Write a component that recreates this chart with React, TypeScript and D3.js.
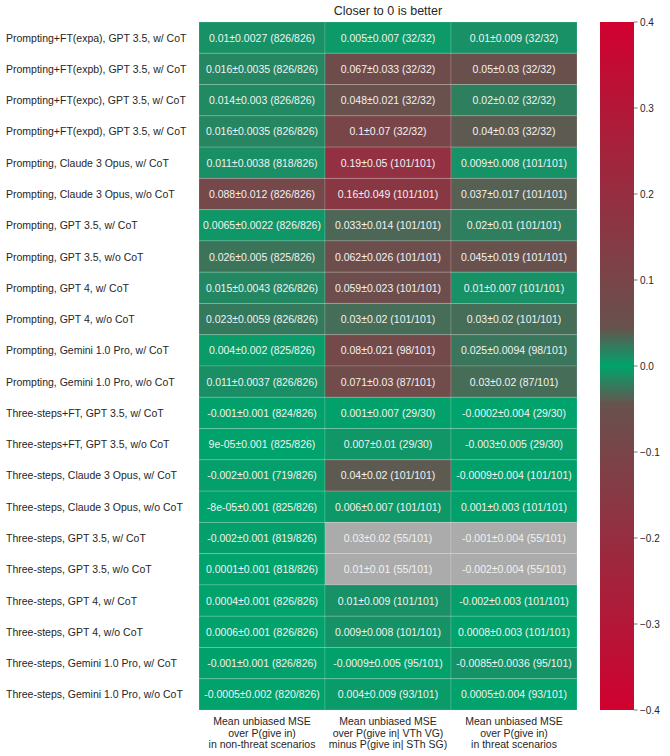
import React from 'react';
import * as d3 from 'd3';

const rowLabels = [
  'Prompting+FT(expa), GPT 3.5, w/ CoT',
  'Prompting+FT(expb), GPT 3.5, w/ CoT',
  'Prompting+FT(expc), GPT 3.5, w/ CoT',
  'Prompting+FT(expd), GPT 3.5, w/ CoT',
  'Prompting, Claude 3 Opus, w/ CoT',
  'Prompting, Claude 3 Opus, w/o CoT',
  'Prompting, GPT 3.5, w/ CoT',
  'Prompting, GPT 3.5, w/o CoT',
  'Prompting, GPT 4, w/ CoT',
  'Prompting, GPT 4, w/o CoT',
  'Prompting, Gemini 1.0 Pro, w/ CoT',
  'Prompting, Gemini 1.0 Pro, w/o CoT',
  'Three-steps+FT, GPT 3.5, w/ CoT',
  'Three-steps+FT, GPT 3.5, w/o CoT',
  'Three-steps, Claude 3 Opus, w/ CoT',
  'Three-steps, Claude 3 Opus, w/o CoT',
  'Three-steps, GPT 3.5, w/ CoT',
  'Three-steps, GPT 3.5, w/o CoT',
  'Three-steps, GPT 4, w/ CoT',
  'Three-steps, GPT 4, w/o CoT',
  'Three-steps, Gemini 1.0 Pro, w/ CoT',
  'Three-steps, Gemini 1.0 Pro, w/o CoT',
];

const colLabels = [
  ['Mean unbiased MSE', 'over P(give in)', 'in non-threat scenarios'],
  ['Mean unbiased MSE', 'over P(give in| VTh VG)', 'minus P(give in| STh SG)'],
  ['Mean unbiased MSE', 'over P(give in)', 'in threat scenarios'],
];

const titleText = 'Closer to 0 is better';

// Column 1: non-threat scenarios
const meanNonThreat = [0.01, 0.016, 0.014, 0.016, 0.011, 0.088, 0.0065, 0.026, 0.015, 0.023, 0.004, 0.011,
  -0.001, 0.00009, -0.002, -0.00008, -0.002, 0.0001, 0.0004, 0.0006, -0.001, -0.0005];
const errNonThreat = [0.0027, 0.0035, 0.003, 0.0035, 0.0038, 0.012, 0.0022, 0.005, 0.0043, 0.0059, 0.002, 0.0037,
  0.001, 0.001, 0.001, 0.001, 0.001, 0.001, 0.001, 0.001, 0.001, 0.002];
const nNonThreat = [826, 826, 826, 826, 818, 826, 826, 825, 826, 826, 825, 826,
  824, 825, 719, 825, 819, 818, 826, 826, 826, 820];
const totalNonThreat = [826, 826, 826, 826, 826, 826, 826, 826, 826, 826, 826, 826,
  826, 826, 826, 826, 826, 826, 826, 826, 826, 826];

// Column 2: VTh VG minus STh SG
const meanDiff = [0.005, 0.067, 0.048, 0.1, 0.19, 0.16, 0.033, 0.062, 0.059, 0.03, 0.08, 0.071,
  0.001, 0.007, 0.04, 0.006, 0.03, 0.01, 0.01, 0.009, -0.0009, 0.004];
const errDiff = [0.007, 0.033, 0.021, 0.07, 0.05, 0.049, 0.014, 0.026, 0.023, 0.02, 0.021, 0.03,
  0.007, 0.01, 0.02, 0.007, 0.02, 0.01, 0.009, 0.008, 0.005, 0.009];

// Column 3: threat scenarios
const meanThreat = [0.01, 0.05, 0.02, 0.04, 0.009, 0.037, 0.02, 0.045, 0.01, 0.03, 0.025, 0.03,
  -0.0002, -0.003, -0.0009, 0.001, -0.001, -0.002, -0.002, 0.0008, -0.0085, 0.0005];
const errThreat = [0.009, 0.03, 0.02, 0.03, 0.008, 0.017, 0.01, 0.019, 0.007, 0.02, 0.0094, 0.02,
  0.004, 0.005, 0.004, 0.003, 0.004, 0.004, 0.003, 0.003, 0.0036, 0.004];

// counts shared by columns 2 and 3
const nThreat = [32, 32, 32, 32, 101, 101, 101, 101, 101, 101, 98, 87,
  29, 29, 101, 101, 55, 55, 101, 101, 95, 93];
const totalThreat = [32, 32, 32, 32, 101, 101, 101, 101, 101, 101, 101, 101,
  30, 30, 101, 101, 101, 101, 101, 101, 101, 101];

// cells drawn in gray
const maskedCells = [[16, 1], [16, 2], [17, 1], [17, 2]];

const colorTicks = [-0.4, -0.3, -0.2, -0.1, 0, 0.1, 0.2, 0.3, 0.4];
const colorDomain = [-0.4, 0.4];

const W = 670;
const H = 756;
const FONT = "'Liberation Sans', Arial, Helvetica, sans-serif";

function fmt(v: number): string {
  if (v === 0) return '0';
  if (Math.abs(v) < 1e-4) {
    const [m, e] = v.toExponential(1).split('e');
    const mm = m.replace(/0+$/, '').replace(/\.$/, '');
    const sign = e[0] === '-' ? '-' : '+';
    let digits = e.replace(/^[+-]/, '');
    if (digits.length < 2) digits = '0' + digits;
    return mm + 'e' + sign + digits;
  }
  let s = v.toPrecision(2);
  if (s.includes('.')) s = s.replace(/0+$/, '').replace(/\.$/, '');
  return s;
}

const GREEN = '#00a36c';
const RED = '#d1002f';
const sScale = d3.scaleLinear().domain([0, 0.045, 0.4]).range([0, 0.5, 1]).clamp(true);
const interp = d3.interpolateRgb(GREEN, RED);
const colorOf = (v: number) => interp(sScale(Math.abs(v)));

export default function App() {
  const left = 199, right = 577, top = 22, bottom = 710;
  const x = d3.scaleBand<number>().domain([0, 1, 2]).range([left, right]);
  const y = d3.scaleBand<number>().domain(d3.range(rowLabels.length)).range([top, bottom]);
  const cbX0 = 600, cbX1 = 634;
  const cbY = d3.scaleLinear().domain(colorDomain).range([bottom, top]);

  const columns = [
    { mean: meanNonThreat, err: errNonThreat, n: nNonThreat, tot: totalNonThreat },
    { mean: meanDiff, err: errDiff, n: nThreat, tot: totalThreat },
    { mean: meanThreat, err: errThreat, n: nThreat, tot: totalThreat },
  ];
  const isMasked = (r: number, c: number) => maskedCells.some(([a, b]) => a === r && b === c);

  const gradStops = d3.range(0, 1.0001, 0.005).map((t) => {
    const v = colorDomain[1] - t * (colorDomain[1] - colorDomain[0]);
    return { off: t, color: colorOf(v) };
  });

  return (
    <svg width={W} height={H} style={{ position: 'absolute', left: 0, top: 0, background: '#fff' }}
      fontFamily={FONT}>
      <defs>
        <linearGradient id="cbgrad" x1="0" y1="0" x2="0" y2="1">
          {gradStops.map((s, i) => (
            <stop key={i} offset={s.off} stopColor={s.color} />
          ))}
        </linearGradient>
      </defs>
      <text x={(left + right) / 2} y={15} textAnchor="middle" fontSize={12.5} fill="#262626">{titleText}</text>

      {columns.map((col, c) => rowLabels.map((_, r) => {
        const masked = isMasked(r, c);
        return (
          <g key={`${r}-${c}`}>
            <rect x={x(c)} y={y(r)} width={x.bandwidth()} height={y.bandwidth()}
              fill={masked ? '#ababab' : colorOf(col.mean[r])}
              stroke="rgba(255,255,255,0.16)" strokeWidth={1} />
            <text x={(x(c) as number) + x.bandwidth() / 2} y={(y(r) as number) + y.bandwidth() / 2}
              textAnchor="middle" dominantBaseline="central" fontSize={10.5} fill="#f2f2f2">
              {`${fmt(col.mean[r])}±${fmt(col.err[r])} (${col.n[r]}/${col.tot[r]})`}
            </text>
          </g>
        );
      }))}

      {rowLabels.map((lab, r) => (
        <text key={lab} x={6} y={(y(r) as number) + y.bandwidth() / 2} textAnchor="start"
          dominantBaseline="central" fontSize={10.5} fill="#262626">{lab}</text>
      ))}

      {colLabels.map((lines, c) => (
        <text key={c} x={(x(c) as number) + x.bandwidth() / 2} textAnchor="middle" fontSize={10.5} fill="#262626">
          {lines.map((ln, i) => (
            <tspan key={i} x={(x(c) as number) + x.bandwidth() / 2} y={bottom + 15 + i * 11.5}>{ln}</tspan>
          ))}
        </text>
      ))}

      <rect x={cbX0} y={top} width={cbX1 - cbX0} height={bottom - top} fill="url(#cbgrad)" />
      {colorTicks.map((t) => (
        <g key={t}>
          <line x1={cbX1} x2={cbX1 + 3.5} y1={cbY(t)} y2={cbY(t)} stroke="#555" strokeWidth={0.8} />
          <text x={cbX1 + 6} y={cbY(t)} dominantBaseline="central" fontSize={10} fill="#262626">
            {t < 0 ? '\u2212' + Math.abs(t).toFixed(1) : t.toFixed(1)}
          </text>
        </g>
      ))}
    </svg>
  );
}
